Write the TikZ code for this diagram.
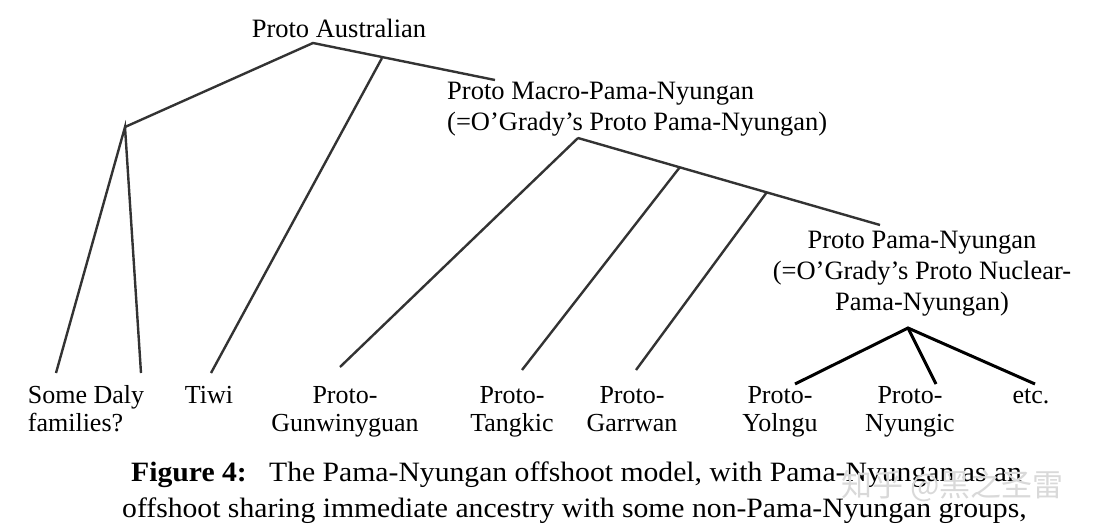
\documentclass[tikz,border=0pt]{standalone}
\usepackage{fontspec}
\setmainfont{Liberation Serif}
\newfontfamily\cjkfont{Noto Sans CJK SC}
\usepackage{tikz}
\usetikzlibrary{positioning,calc}

\begin{document}
\begin{tikzpicture}[x=1pt, y=-1pt,
  lab/.style={inner sep=0pt, font=\fontsize{26.5}{31}\selectfont, align=center},
  leaf/.style={inner sep=0pt, font=\fontsize{26}{28}\selectfont, align=center, anchor=base},
  capt/.style={inner sep=0pt, font=\fontsize{28}{34}\selectfont, anchor=base west},
  br/.style={line width=2.4pt, black!80},
  brk/.style={line width=3pt, black}
]
\useasboundingbox (0,0) rectangle (1103,530);

% top of the tree
\node[lab, anchor=base] (PA) at (339,37) {Proto Australian};
\coordinate (RA) at (313,43);
\coordinate (DL) at (125,127);
\coordinate (TJ) at (382,58);
\coordinate (ME) at (495,80);

% Proto Macro-Pama-Nyungan (base = last line)
\node[lab, anchor=base west, align=left] (PM) at (447,130)
  {Proto Macro-Pama-Nyungan\\(=O'Grady's Proto Pama-Nyungan)};
\coordinate (MA) at (578,138);
\coordinate (TKJ) at (680,167);
\coordinate (GRJ) at (767,192);
\coordinate (MN) at (880,225);

% Proto Pama-Nyungan
\node[lab, anchor=base] (PN) at (922,310)
  {Proto Pama-Nyungan\\(=O'Grady's Proto Nuclear-\\Pama-Nyungan)};
\coordinate (NA) at (908,328);

% leaves
\node[leaf, align=left] (SD) at (86,431) {Some Daly\\families?};
\node[leaf] (TW) at (209,403) {Tiwi};
\node[leaf] (GW) at (345,431) {Proto-\\Gunwinyguan};
\node[leaf] (TK) at (512,431) {Proto-\\Tangkic};
\node[leaf] (GR) at (632,431) {Proto-\\Garrwan};
\node[leaf] (YL) at (780,431) {Proto-\\Yolngu};
\node[leaf] (NY) at (910,431) {Proto-\\Nyungic};
\node[leaf] (ET) at (1031,403) {etc.};

% line ends above the leaves
\coordinate (SD1) at (56,373);
\coordinate (SD2) at (141,373);
\coordinate (TW1) at (211,373);
\coordinate (GW1) at (340,367);
\coordinate (TK1) at (522,370);
\coordinate (GR1) at (636,370);
\coordinate (YL1) at (795,384);
\coordinate (NY1) at (936,384);
\coordinate (ET1) at (1035,384);

% branches
\draw[br] (DL) -- (RA) -- (ME);
\draw[br] (SD1) -- (DL) -- (SD2);
\draw[br] (TJ) -- (TW1);
\draw[br] (MA) -- (MN);
\draw[br] (MA) -- (GW1);
\draw[br] (TKJ) -- (TK1);
\draw[br] (GRJ) -- (GR1);
\draw[brk] (YL1) -- (NA) -- (ET1);
\draw[brk] (NA) -- (NY1);

% caption
\node[capt] (C1) at (131,481)
  {\scalebox{1.06}[1]{\textbf{Figure 4:}\hspace{0.75em}The Pama-Nyungan offshoot model, with Pama-Nyungan as an}};
\node[capt] (C2) at (122,517)
  {\scalebox{1.06}[1]{offshoot sharing immediate ancestry with some non-Pama-Nyungan groups,}};
\node[font=\cjkfont\fontsize{31}{31}\selectfont, text=gray!30, anchor=base west] (WM)
  at (838,496) {知乎 @黑之圣雷};
\end{tikzpicture}
\end{document}
